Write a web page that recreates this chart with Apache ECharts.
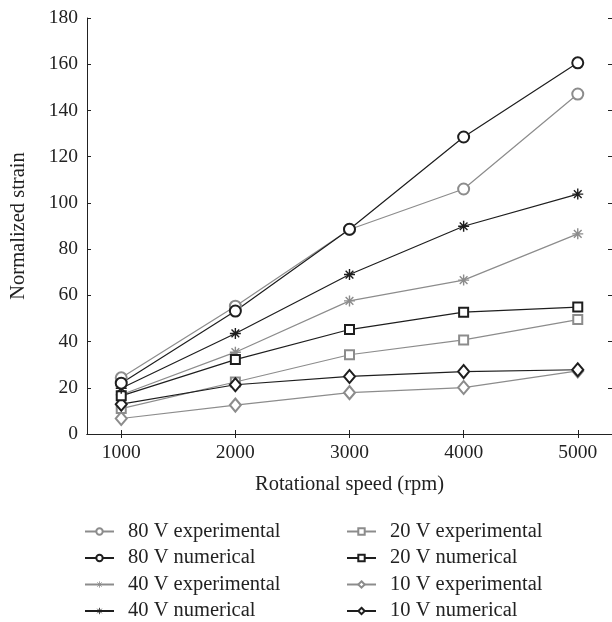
<!DOCTYPE html>
<html>
<head>
<meta charset="utf-8">
<script src="https://cdn.jsdelivr.net/npm/echarts@6/dist/echarts.min.js"></script>
<style>
html,body{margin:0;padding:0;background:#fff;}
#chart{width:612px;height:622px;}
</style>
</head>
<body>
<div id="chart"></div>
<script>
const speeds = [1000, 2000, 3000, 4000, 5000];
const xTicks = [1000, 2000, 3000, 4000, 5000];
const v80exp = [24.3, 55.3, 88.5, 106.0, 147.1];
const v80num = [22.0, 53.2, 88.6, 128.5, 160.6];
const v40exp = [17.0, 35.4, 57.6, 66.6, 86.6];
const v40num = [19.8, 43.5, 69.0, 89.9, 103.8];
const v20exp = [11.0, 22.5, 34.3, 40.7, 49.5];
const v20num = [16.5, 32.2, 45.2, 52.7, 54.9];
const v10exp = [6.7, 12.5, 17.9, 20.1, 27.3];
const v10num = [12.9, 21.3, 24.9, 27.0, 27.8];
const names = ['80 V experimental','80 V numerical','40 V experimental','40 V numerical',
               '20 V experimental','20 V numerical','10 V experimental','10 V numerical'];

const GRAY = '#8c8c8c', BLACK = '#1e1e1e';
const FONT = 'Liberation Serif';
const STAR = 'path://M5 0 L5 10 M0 5 L10 5 M1.5 1.5 L8.5 8.5 M8.5 1.5 L1.5 8.5';

function pairs(vals){ return speeds.map((s,i)=>[s, vals[i]]); }

function mk(name, vals, color, symbol, size){
  const isStar = symbol === STAR;
  return {
    name: name, type: 'line', data: pairs(vals),
    symbol: symbol, symbolSize: size, showSymbol: true,
    lineStyle: {color: color, width: 1.2},
    itemStyle: isStar ? {color: 'none', borderColor: color, borderWidth: 1.4}
                      : {color: color, borderColor: color, borderWidth: 1.2},
    emphasis: {disabled: true},
    animation: false
  };
}

const series = [
  mk(names[6], v10exp, GRAY, 'emptyDiamond', [11,13]),
  mk(names[4], v20exp, GRAY, 'emptyRect', 9),
  mk(names[2], v40exp, GRAY, STAR, 11),
  mk(names[0], v80exp, GRAY, 'emptyCircle', 11),
  mk(names[7], v10num, BLACK, 'emptyDiamond', [11,13]),
  mk(names[5], v20num, BLACK, 'emptyRect', 9),
  mk(names[3], v40num, BLACK, STAR, 11),
  mk(names[1], v80num, BLACK, 'emptyCircle', 11)
];

function legendItems(list){
  return list.map(n => n.indexOf('40 V') === 0
    ? {name: n, itemStyle: {borderWidth: 0.8}}
    : {name: n});
}

const chart = echarts.init(document.getElementById('chart'), null, {renderer: 'canvas'});
const axisLine = {show: true, lineStyle: {color: '#222', width: 1}};
const legendCommon = {
  orient: 'vertical', itemWidth: 29, itemHeight: 8, itemGap: 5.5, padding: 0,
  height: 110,
  textStyle: {fontFamily: FONT, fontSize: 20.5, color: '#222', padding: [0,0,0,9]},
  selectedMode: false
};
chart.setOption({
  backgroundColor: '#fff',
  animation: false,
  grid: {left: 83, top: 18, right: 0, bottom: 188, containLabel: false},
  legend: [
    Object.assign({left: 84, top: 521, data: legendItems(names.slice(0,4))}, legendCommon),
    Object.assign({left: 346, top: 521, data: legendItems(names.slice(4,8))}, legendCommon)
  ],
  xAxis: [{
    type: 'value', min: 700, max: 5300,
    name: 'Rotational speed (rpm)', nameLocation: 'middle', nameGap: 40,
    nameTextStyle: {fontFamily: FONT, fontSize: 20.5, color: '#222'},
    axisLine: axisLine,
    axisTick: {show: true, inside: true, length: 4, customValues: xTicks, lineStyle: {color: '#222'}},
    axisLabel: {customValues: xTicks, formatter: v => String(v), fontFamily: FONT, fontSize: 19.5, color: '#222', margin: 9},
    splitLine: {show: false}
  },{
    type: 'value', position: 'top', min: 700, max: 5300,
    axisLine: axisLine,
    axisTick: {show: true, inside: true, length: 4, customValues: xTicks, lineStyle: {color: '#222'}},
    axisLabel: {show: false},
    splitLine: {show: false}
  }],
  yAxis: [{
    type: 'value', min: 0, max: 180, interval: 20,
    name: 'Normalized strain', nameLocation: 'middle', nameGap: 58,
    nameTextStyle: {fontFamily: FONT, fontSize: 20.5, color: '#222'},
    axisLine: axisLine,
    axisTick: {show: true, inside: true, length: 4, lineStyle: {color: '#222'}},
    axisLabel: {fontFamily: FONT, fontSize: 19.5, color: '#222', margin: 9},
    splitLine: {show: false}
  },{
    type: 'value', position: 'right', min: 0, max: 180, interval: 20,
    axisLine: axisLine,
    axisTick: {show: true, inside: true, length: 4, lineStyle: {color: '#222'}},
    axisLabel: {show: false},
    splitLine: {show: false}
  }],
  series: series
});
</script>
</body>
</html>
